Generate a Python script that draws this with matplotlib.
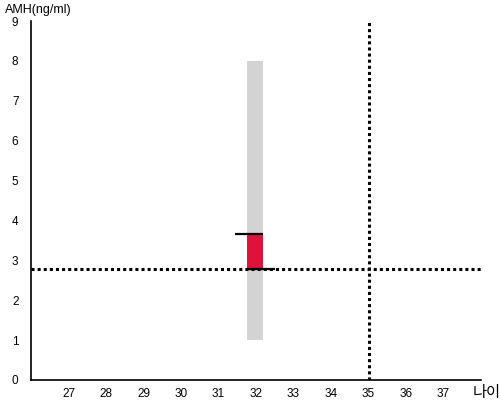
import matplotlib
matplotlib.use("Agg")
import matplotlib.pyplot as plt

plt.rcParams['font.family'] = ['Liberation Sans', 'Noto Sans CJK KR', 'DejaVu Sans']

x_ticks = [27, 28, 29, 30, 31, 32, 33, 34, 35, 36, 37]
y_ticks = [0, 1, 2, 3, 4, 5, 6, 7, 8, 9]
age = 32
range_low, range_high = 1.0, 8.0
amh_value = 3.66
ref_amh = 2.78
ref_age = 35

fig = plt.figure(figsize=(5, 4), dpi=100)
ax = fig.add_axes([31/500, 20/400, 450/500, 359/400])
ax.set_xlim(26, 38)
ax.set_ylim(0, 9)

bw = 0.43
ax.bar([age - 0.03], [range_high - range_low], bottom=range_low, width=bw, color='#d3d3d3', zorder=1)
ax.bar([age - 0.03], [amh_value - ref_amh], bottom=ref_amh, width=bw, color='#dc143c', zorder=2)
ax.plot([age - 0.03 - bw/2 - 0.32, age - 0.03 + bw/2], [amh_value, amh_value], color='black', lw=1.6, zorder=4, solid_capstyle='butt')
ax.plot([age - 0.03 - bw/2, age - 0.03 + bw/2 + 0.32], [ref_amh, ref_amh], color='black', lw=1.6, zorder=4, solid_capstyle='butt')

ax.axhline(ref_amh, color='black', lw=2.2, linestyle=(0, (1, 1)), dash_capstyle='butt', zorder=3)
ax.axvline(ref_age, color='black', lw=2.2, linestyle=(0, (1, 1)), dash_capstyle='butt', zorder=3)

ax.spines['top'].set_visible(False)
ax.spines['right'].set_visible(False)
ax.spines['left'].set_linewidth(1.2)
ax.spines['bottom'].set_linewidth(1.2)
ax.set_xticks(x_ticks)
ax.set_yticks(y_ticks)
ax.tick_params(length=0, labelsize=8.5, pad=6)
ax.tick_params(axis='y', pad=9)

fig.text(5/500, 1 - 10/400, 'AMH(ng/ml)', fontsize=9, va='center', ha='left')
fig.text(487/500, 1 - 393/400, '나이', fontsize=11, va='center', ha='center')

fig.savefig('out.png', dpi=100)
